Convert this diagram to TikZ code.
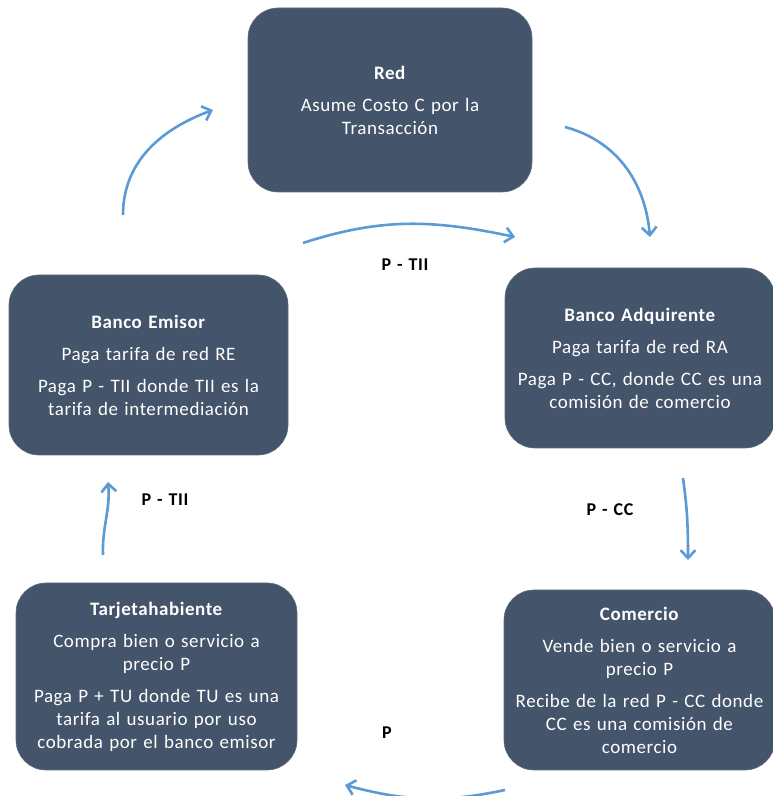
\documentclass[tikz,border=0pt]{standalone}
\usepackage{fontspec}
\setmainfont{Carlito}[LetterSpace=3,WordSpace=1.3]
\usepackage{tikz}
\usetikzlibrary{arrows.meta}
\definecolor{slate}{RGB}{68,84,106}
\definecolor{flowblue}{RGB}{91,155,213}
\newlength{\paragap}
\setlength{\paragap}{9pt}
\tikzset{box/.style = {shape=rectangle,rounded corners=30pt,fill=slate,draw=slate!85!white,line width=0.6pt,text=white,align=center,inner sep=0pt,font=\fontsize{19}{23}\selectfont}}
\tikzset{flow/.style = {-{Straight Barb[length=8pt,width=15pt]},draw=flowblue,line width=2.6pt}}
\tikzset{amount/.style = {font=\fontsize{18}{20}\selectfont\bfseries}}

\begin{document}
\begin{tikzpicture}[x=1pt,y=1pt]
                \useasboundingbox (0,0) rectangle (772,796);
                \node[box,minimum width=284pt,minimum height=184pt] (red) at (390,696) {\textbf{Red}\\[\paragap]Asume Costo C por la\\Transacción};
                \node[box,minimum width=270pt,minimum height=180pt] (adq) at (640,438) {\textbf{Banco Adquirente}\\[\paragap]Paga tarifa de red RA\\[\paragap]Paga P - CC, donde CC es una\\comisión de comercio};
                \node[box,minimum width=279pt,minimum height=180pt] (emisor) at (148.5,431) {\textbf{Banco Emisor}\\[\paragap]Paga tarifa de red RE\\[\paragap]Paga P - TII donde TII es la\\tarifa de intermediación};
                \node[box,minimum width=281pt,minimum height=187pt] (tarj) at (156.5,119.5) {\textbf{Tarjetahabiente}\\[\paragap]Compra bien o servicio a\\precio P\\[\paragap]Paga P + TU donde TU es una\\tarifa al usuario por uso\\cobrada por el banco emisor};
                \node[box,minimum width=271pt,minimum height=180pt] (comercio) at (639.5,116) {\textbf{Comercio}\\[\paragap]Vende bien o servicio a\\precio P\\[\paragap]Recibe de la red P - CC donde\\CC es una comisión de\\comercio};
                % arrow ends
                \coordinate (e1) at (123,581);
                \coordinate (r1) at (213,686);
                \coordinate (r2) at (565,669);
                \coordinate (a2) at (650,559);
                \coordinate (e3) at (303,553);
                \coordinate (a3) at (515,559);
                \coordinate (a4) at (683,318);
                \coordinate (c4) at (688,236);
                \coordinate (c5) at (505,6);
                \coordinate (t5) at (345,11);
                \coordinate (t6) at (103,241);
                \coordinate (e6) at (108,314);
                \draw[flow] (e1) to[out=90,in=200] (r1);
                \draw[flow] (r2) to[out=-15,in=95] (a2);
                \draw[flow] (e3) to[out=18,in=168] (a3);
                \node[amount] (tii1) at (405,531) {P - TII};
                \draw[flow] (a4) to[out=-82,in=90] (c4);
                \node[amount] (cc) at (610,286) {P - CC};
                \draw[flow] (c5) to[out=192,in=-15] (t5);
                \node[amount] (p) at (387,63) {P};
                \draw[flow] (t6) to[out=92,in=-85] (e6);
                \node[amount] (tii2) at (165,296) {P - TII};
            \end{tikzpicture}
\end{document}
